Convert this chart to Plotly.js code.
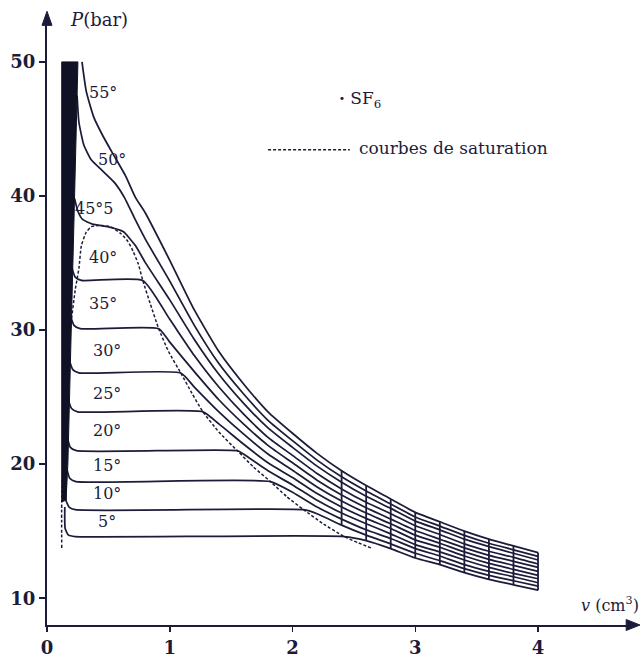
<!DOCTYPE html>
<html><head><meta charset="utf-8">
<script src="https://cdn.plot.ly/plotly-3.0.1.min.js"></script>
<style>html,body{margin:0;padding:0;background:#fff}#chart{width:644px;height:662px}</style>
</head><body><div id="chart"></div>
<script>
// ---- data (v in cm3, P in bar) ----
const iso55_v = [0.285,0.32,0.38,0.46,0.54,0.64,0.72,0.8,1.0,1.2,1.4,1.6,1.8,2.0,2.2,2.4,2.6,2.8,3.0,3.2,3.4,3.6,3.8,4.0];
const iso55_p = [50,47.8,45.9,44.4,43.1,41.5,39.9,38.75,35.2,31.5,28.4,26.0,23.9,22.3,20.8,19.5,18.4,17.4,16.4,15.7,15.0,14.4,13.9,13.4];
const iso50_v = [0.245,0.26,0.30,0.36,0.45,0.55,0.63,0.71,0.8,1.0,1.2,1.4,1.6,1.8,2.0,2.2,2.4,2.6,2.8,3.0,3.2,3.4,3.6,3.8,4.0];
const iso50_p = [47.5,45.5,43.8,42.7,41.9,41.0,39.9,38.4,36.8,33.65,30.35,27.5,25.25,23.27,21.75,20.3,19.05,17.99,17.03,16.06,15.38,14.69,14.1,13.61,13.12];
const iso45_v = [0.225,0.25,0.29,0.37,0.50,0.62,0.72,0.8,1.0,1.2,1.4,1.6,1.8,2.0,2.2,2.4,2.6,2.8,3.0,3.2,3.4,3.6,3.8,4.0];
const iso45_p = [39.8,38.9,38.25,37.9,37.7,37.35,36.3,35.05,32.25,29.3,26.7,24.55,22.7,21.25,19.85,18.65,17.6,16.7,15.75,15.1,14.4,13.85,13.35,12.85];
const iso40_v = [0.20,0.23,0.28,0.78,1.0,1.2,1.4,1.6,1.8,2.0,2.2,2.4,2.6,2.8,3.0,3.2,3.4,3.6,3.8,4.0];
const iso40_p = [34.7,33.95,33.7,33.7,30.8,28.1,25.75,23.75,22.0,20.65,19.3,18.15,17.15,16.3,15.4,14.75,14.05,13.5,13.05,12.55];
const iso35_v = [0.19,0.22,0.27,0.91,1.0,1.2,1.4,1.6,1.8,2.0,2.2,2.4,2.6,2.8,3.0,3.2,3.4,3.6,3.8,4.0];
const iso35_p = [31.1,30.35,30.1,30.1,29.1,26.9,24.8,23.0,21.4,20.1,18.8,17.7,16.75,15.9,15.05,14.4,13.75,13.2,12.75,12.3];
const iso30_v = [0.18,0.21,0.26,1.09,1.2,1.4,1.6,1.8,2.0,2.2,2.4,2.6,2.8,3.0,3.2,3.4,3.6,3.8,4.0];
const iso30_p = [27.8,27.05,26.8,26.8,25.75,23.9,22.25,20.75,19.55,18.3,17.25,16.35,15.55,14.7,14.1,13.45,12.9,12.45,12.0];
const iso25_v = [0.17,0.20,0.25,1.27,1.4,1.6,1.8,2.0,2.2,2.4,2.6,2.8,3.0,3.2,3.4,3.6,3.8,4.0];
const iso25_p = [24.9,24.15,23.9,23.9,23.0,21.5,20.1,19.0,17.8,16.8,15.95,15.2,14.35,13.8,13.15,12.6,12.15,11.7];
const iso20_v = [0.165,0.19,0.24,1.55,1.6,1.8,2.0,2.2,2.4,2.6,2.8,3.0,3.2,3.4,3.6,3.8,4.0];
const iso20_p = [22.0,21.25,21.0,21.0,20.75,19.5,18.45,17.3,16.35,15.55,14.8,14.0,13.45,12.85,12.3,11.85,11.45];
const iso15_v = [0.16,0.185,0.235,1.82,2.0,2.2,2.4,2.6,2.8,3.0,3.2,3.4,3.6,3.8,4.0];
const iso15_p = [19.7,18.95,18.7,18.7,17.9,16.8,15.9,15.1,14.45,13.7,13.15,12.5,12.0,11.6,11.15];
const iso10_v = [0.155,0.155,0.18,0.23,2.09,2.2,2.4,2.6,2.8,3.0,3.2,3.4,3.6,3.8,4.0];
const iso10_p = [18.6,17.3,16.8,16.6,16.6,16.3,15.45,14.7,14.05,13.35,12.8,12.2,11.7,11.3,10.9];
const iso5_v = [0.145,0.148,0.175,0.23,2.42,2.6,2.8,3.0,3.2,3.4,3.6,3.8,4.0];
const iso5_p = [16.8,15.2,14.7,14.6,14.6,14.3,13.7,13.0,12.5,11.9,11.4,11.0,10.6];

const sat_v = [0.12,0.12,0.15,0.19,0.23,0.26,0.28,0.32,0.36,0.42,0.52,0.60,0.66,0.70,0.745,0.78,0.84,0.91,0.99,1.09,1.18,1.27,1.40,1.55,1.68,1.82,1.95,2.09,2.25,2.42,2.53,2.64];
const sat_p = [13.75,17.2,24,30,33.0,34.6,36.3,37.3,37.7,37.8,37.7,37.2,36.6,35.9,34.9,33.7,32.0,30.1,28.4,26.8,25.3,23.9,22.4,21.0,19.8,18.7,17.6,16.6,15.55,14.6,14.15,13.75];

const liquid_v = [0.12,0.12,0.252,0.225,0.20,0.17,0.155,0.12];
const liquid_p = [17.2,50,50,40,30,20,17.3,17.2];

const hatch_v = [2.4,2.6,2.8,3.0,3.2,3.4,3.6,3.8,4.0];

const iso_labels = ['55°','50°','45°5','40°','35°','30°','25°','20°','15°','10°','5°'];
const x_ticks = [0,1,2,3,4];
const y_ticks = [10,20,30,40,50];

// ---- drawing ----
const INK = '#1c1c3a';
const isos = [[iso55_v,iso55_p],[iso50_v,iso50_p],[iso45_v,iso45_p],[iso40_v,iso40_p],[iso35_v,iso35_p],
  [iso30_v,iso30_p],[iso25_v,iso25_p],[iso20_v,iso20_p],[iso15_v,iso15_p],[iso10_v,iso10_p],[iso5_v,iso5_p]];

const traces = [];
traces.push({x:sat_v, y:sat_p, type:'scatter', mode:'lines', line:{color:INK, width:1.5, dash:'3px,2px', shape:'spline', smoothing:0.5}, hoverinfo:'skip'});
isos.forEach(([v,p]) => traces.push({x:v, y:p, type:'scatter', mode:'lines', line:{color:INK, width:1.75, shape:'spline', smoothing:0.5}, hoverinfo:'skip'}));

// vertical hatching of the gas band, from the lowest to the highest isotherm at each position
const hx = [], hy = [];
hatch_v.forEach(h => {
  const vals = [];
  isos.forEach(([v,p]) => { const i = v.findIndex(q => Math.abs(q-h) < 1e-9); if (i >= 0) vals.push(p[i]); });
  hx.push(h,h,null); hy.push(Math.min(...vals), Math.max(...vals), null);
});
traces.push({x:hx, y:hy, type:'scatter', mode:'lines', line:{color:INK, width:1.8}, hoverinfo:'skip'});
traces.push({x:liquid_v, y:liquid_p, type:'scatter', mode:'lines', fill:'toself', fillcolor:'#111126', line:{color:'#111126', width:1}, hoverinfo:'skip'});

const F = 'DejaVu Serif, serif';
const labelPos = [[0.456,47.7],[0.53,42.7],[0.385,39.1],[0.456,35.4],[0.456,32.0],[0.49,28.5],[0.49,25.3],[0.49,22.5],[0.49,19.9],[0.49,17.8],[0.49,15.7]];
const annotations = iso_labels.map((t,i) => ({x:labelPos[i][0], y:labelPos[i][1], xref:'x', yref:'y', text:t, showarrow:false, font:{family:F, size:16, color:INK}, xanchor:'center', yanchor:'middle'}));
annotations.push(
  {xref:'paper', yref:'paper', x:0.036, y:0.992, text:'<i>P</i>(bar)', showarrow:false, xanchor:'left', yanchor:'middle', font:{family:F, size:18, color:INK}},
  {xref:'paper', yref:'paper', x:1.01, y:0.034, text:'<i>v</i> (cm<sup>3</sup>)', showarrow:false, xanchor:'right', yanchor:'middle', font:{family:F, size:16, color:INK}},
  {xref:'paper', yref:'paper', x:0.493, y:0.861, text:'<b>·</b> SF<sub>6</sub>', showarrow:false, xanchor:'left', yanchor:'middle', font:{family:F, size:17, color:INK}},
  {xref:'paper', yref:'paper', x:0.527, y:0.782, text:'courbes de saturation', showarrow:false, xanchor:'left', yanchor:'middle', font:{family:F, size:17, color:INK}}
);

const axisCommon = {showline:true, linewidth:2, linecolor:INK, showgrid:false, zeroline:false, ticks:'outside', ticklen:6, tickwidth:1.5, tickcolor:INK, tickfont:{family:F, size:18, color:INK, weight:'bold'}};
const layout = {
  width:644, height:662, margin:{l:47, r:9, t:15, b:37},
  paper_bgcolor:'#ffffff', plot_bgcolor:'#ffffff', showlegend:false,
  xaxis:Object.assign({}, axisCommon, {range:[0,4.79], tickvals:x_ticks, ticktext:x_ticks.map(String), ticklabelstandoff:0, ticklen:5}),
  yaxis:Object.assign({}, axisCommon, {range:[8,53.5], tickvals:y_ticks, ticktext:y_ticks.map(String)}),
  shapes:[
    {type:'line', xref:'paper', yref:'paper', x0:0.376, x1:0.515, y0:0.779, y1:0.779, line:{color:INK, width:1.5, dash:'3px,2px'}},
    {type:'path', xref:'paper', yref:'paper', path:'M 1.0085 0 L 0.985 0.009 L 0.985 -0.009 Z', fillcolor:INK, line:{color:INK, width:1}},
    {type:'path', xref:'paper', yref:'paper', path:'M 0 1.006 L -0.0085 0.983 L 0.0085 0.983 Z', fillcolor:INK, line:{color:INK, width:1}}
  ],
  annotations:annotations
};
Plotly.newPlot('chart', traces, layout, {displayModeBar:false, staticPlot:true});
</script>
</body></html>
